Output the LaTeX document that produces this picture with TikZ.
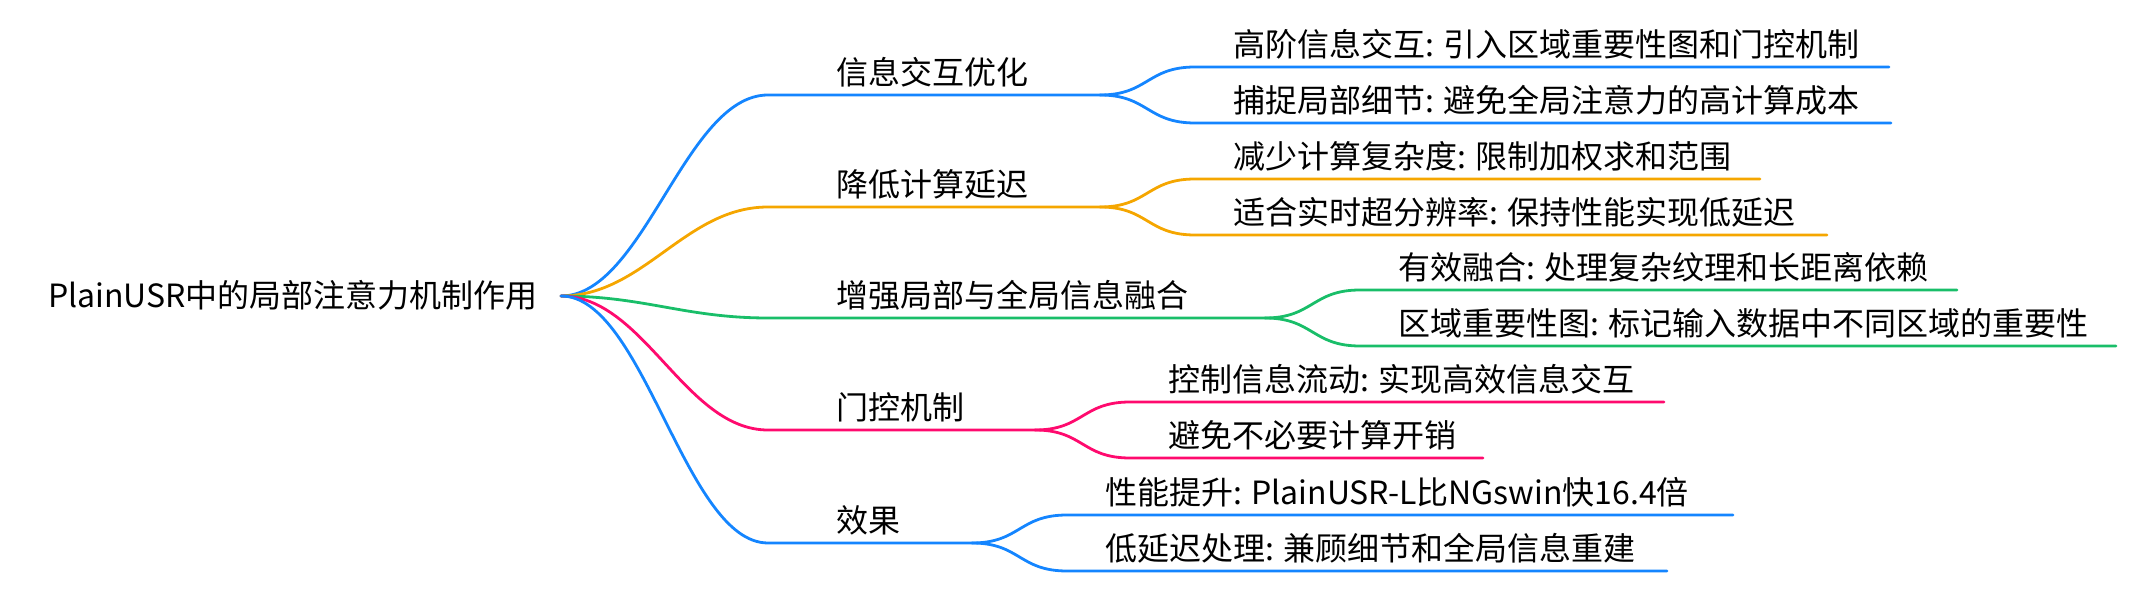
\documentclass[tikz,border=0pt]{standalone}
\usepackage{fontspec}
\setmainfont{Noto Sans CJK SC}
\definecolor{mBlue}{RGB}{20,133,255}
\definecolor{mOrange}{RGB}{245,166,0}
\definecolor{mGreen}{RGB}{25,190,105}
\definecolor{mPink}{RGB}{255,10,110}
\tikzset{
  lbl/.style={anchor=base west, inner sep=0pt, outer sep=0pt, text=black,
              font=\fontsize{16pt}{20pt}\selectfont},
  br/.style={line width=1.4pt, line cap=round},
}
\begin{document}
\begin{tikzpicture}[x=0.5pt,y=-0.5pt]
\useasboundingbox (0,0) rectangle (2136,592);
% root
\node[lbl] (root) at (48,308) {PlainUSR中的局部注意力机制作用};
\coordinate (J) at (561,296);
% level-1 coordinates
\coordinate (c1s) at (768,95);  \coordinate (c1f) at (1100,95);
\coordinate (c2s) at (768,207); \coordinate (c2f) at (1100,207);
\coordinate (c3s) at (768,318); \coordinate (c3f) at (1265,318);
\coordinate (c4s) at (768,430); \coordinate (c4f) at (1035,430);
\coordinate (c5s) at (768,543); \coordinate (c5f) at (972,543);
% level-1 labels
\node[lbl] (c1) at (836,85)  {信息交互优化};
\node[lbl] (c2) at (836,197) {降低计算延迟};
\node[lbl] (c3) at (836,308) {增强局部与全局信息融合};
\node[lbl] (c4) at (836,420) {门控机制};
\node[lbl] (c5) at (836,533) {效果};
% level-2 coordinates
\coordinate (c1as) at (1195,67);  \coordinate (c1ae) at (1889,67);
\coordinate (c1bs) at (1195,123); \coordinate (c1be) at (1891,123);
\coordinate (c2as) at (1195,179); \coordinate (c2ae) at (1760,179);
\coordinate (c2bs) at (1195,235); \coordinate (c2be) at (1827,235);
\coordinate (c3as) at (1360,290); \coordinate (c3ae) at (1957,290);
\coordinate (c3bs) at (1360,346); \coordinate (c3be) at (2116,346);
\coordinate (c4as) at (1130,402); \coordinate (c4ae) at (1664,402);
\coordinate (c4bs) at (1130,458); \coordinate (c4be) at (1483,458);
\coordinate (c5as) at (1067,515); \coordinate (c5ae) at (1733,515);
\coordinate (c5bs) at (1067,571); \coordinate (c5be) at (1667,571);
% level-2 labels
\node[lbl] (c1a) at (1233,57)  {高阶信息交互: 引入区域重要性图和门控机制};
\node[lbl] (c1b) at (1233,113) {捕捉局部细节: 避免全局注意力的高计算成本};
\node[lbl] (c2a) at (1233,169) {减少计算复杂度: 限制加权求和范围};
\node[lbl] (c2b) at (1233,225) {适合实时超分辨率: 保持性能实现低延迟};
\node[lbl] (c3a) at (1398,280) {有效融合: 处理复杂纹理和长距离依赖};
\node[lbl] (c3b) at (1398,336) {区域重要性图: 标记输入数据中不同区域的重要性};
\node[lbl] (c4a) at (1168,392) {控制信息流动: 实现高效信息交互};
\node[lbl] (c4b) at (1168,448) {避免不必要计算开销};
\node[lbl] (c5a) at (1105,505) {性能提升: PlainUSR-L比NGswin快16.4倍};
\node[lbl] (c5b) at (1105,561) {低延迟处理: 兼顾细节和全局信息重建};
% level-1 connectors
\draw[br,mBlue]   (J) .. controls +(83,0) and +(-83,0) .. (c1s) -- (c1f);
\draw[br,mOrange] (J) .. controls +(83,0) and +(-83,0) .. (c2s) -- (c2f);
\draw[br,mGreen]  (J) .. controls +(83,0) and +(-83,0) .. (c3s) -- (c3f);
\draw[br,mPink]   (J) .. controls +(83,0) and +(-83,0) .. (c4s) -- (c4f);
\draw[br,mBlue]   (J) .. controls +(83,0) and +(-83,0) .. (c5s) -- (c5f);
% level-2 connectors
\draw[br,mBlue]   (c1f) .. controls +(48,0) and +(-48,0) .. (c1as) -- (c1ae);
\draw[br,mBlue]   (c1f) .. controls +(48,0) and +(-48,0) .. (c1bs) -- (c1be);
\draw[br,mOrange] (c2f) .. controls +(48,0) and +(-48,0) .. (c2as) -- (c2ae);
\draw[br,mOrange] (c2f) .. controls +(48,0) and +(-48,0) .. (c2bs) -- (c2be);
\draw[br,mGreen]  (c3f) .. controls +(48,0) and +(-48,0) .. (c3as) -- (c3ae);
\draw[br,mGreen]  (c3f) .. controls +(48,0) and +(-48,0) .. (c3bs) -- (c3be);
\draw[br,mPink]   (c4f) .. controls +(48,0) and +(-48,0) .. (c4as) -- (c4ae);
\draw[br,mPink]   (c4f) .. controls +(48,0) and +(-48,0) .. (c4bs) -- (c4be);
\draw[br,mBlue]   (c5f) .. controls +(48,0) and +(-48,0) .. (c5as) -- (c5ae);
\draw[br,mBlue]   (c5f) .. controls +(48,0) and +(-48,0) .. (c5bs) -- (c5be);
\end{tikzpicture}
\end{document}
